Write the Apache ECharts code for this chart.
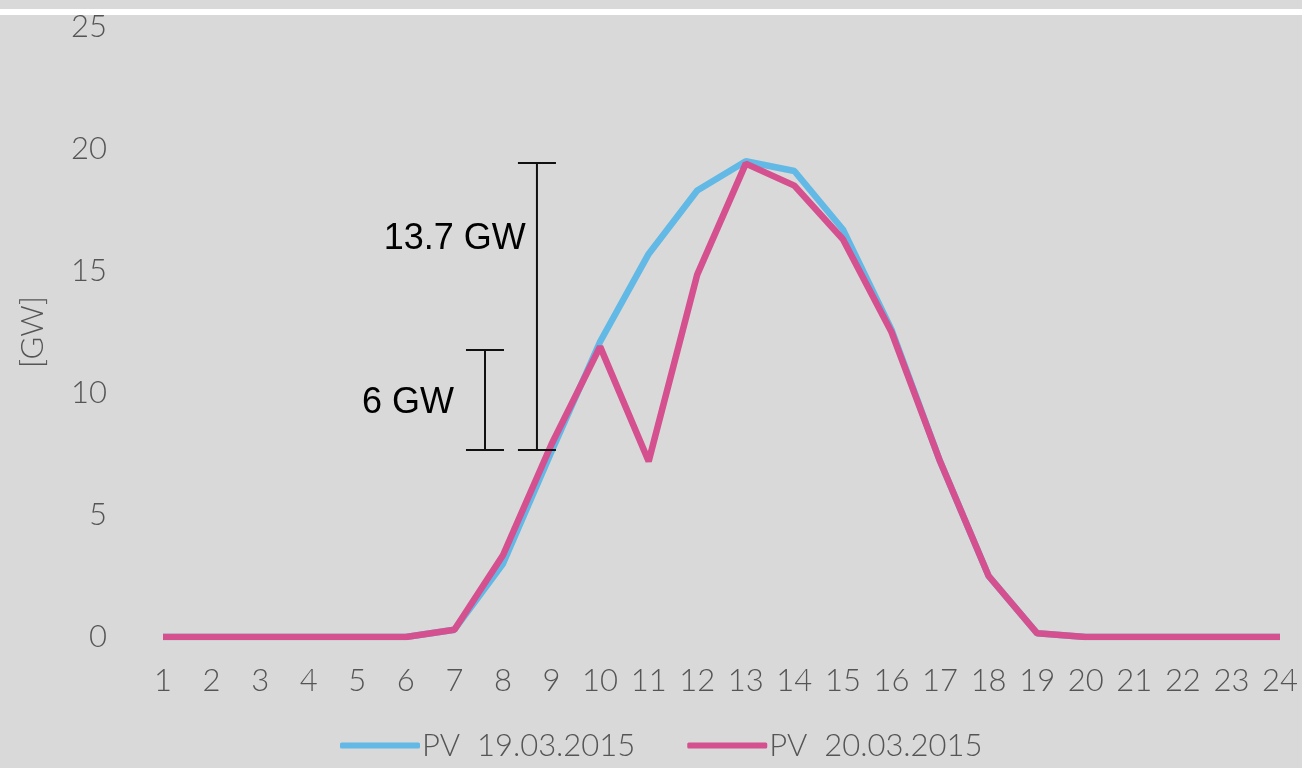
<!DOCTYPE html>
<html>
<head>
<meta charset="utf-8">
<title>PV 19.03.2015 / 20.03.2015</title>
<script src="https://cdn.jsdelivr.net/npm/echarts@6/dist/echarts.min.js"></script>
<style>
  html, body { margin: 0; padding: 0; background: #d9d9d9; }
  #chart { width: 1302px; height: 768px; }
</style>
</head>
<body>
<div id="chart"></div>
<script>
// Hour of day (x axis tick labels)
const hours = [1, 2, 3, 4, 5, 6, 7, 8, 9, 10, 11, 12, 13, 14, 15, 16, 17, 18, 19, 20, 21, 22, 23, 24];

// Photovoltaic feed-in [GW]
const pv19 = [0, 0, 0, 0, 0, 0, 0.3, 3.0, 7.6, 12.1, 15.7, 18.3, 19.5, 19.1, 16.7, 12.6, 7.2, 2.5, 0.15, 0, 0, 0, 0, 0];
const pv20 = [0, 0, 0, 0, 0, 0, 0.3, 3.35, 7.9, 11.9, 7.2, 14.85, 19.4, 18.5, 16.3, 12.5, 7.2, 2.5, 0.15, 0, 0, 0, 0, 0];

const seriesNames = ['PV  19.03.2015', 'PV  20.03.2015'];

// Range brackets: hour position, lower and upper value [GW], caption
const bracketHour = [8.7, 7.63];
const bracketLow = [7.66, 7.66];
const bracketHigh = [19.43, 11.76];
const bracketText = ['13.7 GW', '6 GW'];
// caption anchor (right edge) per bracket
const captionHour = [8.47, 6.99];
const captionValue = [16.3, 9.6];

const blue = '#62b9e5';
const pink = '#d4508f';
const tickFont = { fontFamily: 'Lato', fontWeight: 300, fontSize: 31, color: '#555555' };

const chart = echarts.init(document.getElementById('chart'));

const bracketData = bracketHour.map((h, i) => [h, bracketLow[i], bracketHigh[i], captionHour[i], captionValue[i], i]);

chart.setOption({
  backgroundColor: '#d9d9d9',
  animation: false,
  graphic: [{
    type: 'rect',
    shape: { x: 0, y: 9, width: 1302, height: 6 },
    style: { fill: '#ffffff' },
    z: 10
  }],
  grid: { left: 163, right: 22, top: 27, bottom: 131 },
  legend: {
    bottom: 2,
    left: 335,
    itemWidth: 80,
    itemHeight: 6,
    itemGap: 52,
    icon: 'roundRect',
    data: seriesNames,
    textStyle: Object.assign({}, tickFont, { padding: [0, 0, 0, -3] })
  },
  xAxis: {
    type: 'value',
    min: hours[0],
    max: hours[hours.length - 1],
    interval: 1,
    axisLine: { show: false },
    axisTick: { show: false },
    splitLine: { show: false },
    axisLabel: Object.assign({}, tickFont, { margin: 28 })
  },
  yAxis: {
    type: 'value',
    min: 0,
    max: 25,
    interval: 5,
    name: '[GW]',
    nameLocation: 'middle',
    nameGap: 115,
    nameRotate: 90,
    nameTextStyle: Object.assign({}, tickFont),
    axisLine: { show: false },
    axisTick: { show: false },
    splitLine: { show: false },
    axisLabel: Object.assign({}, tickFont, { margin: 56 })
  },
  series: [
    {
      name: seriesNames[0],
      type: 'line',
      data: hours.map((h, i) => [h, pv19[i]]),
      showSymbol: false,
      lineStyle: { color: blue, width: 6.5 },
      itemStyle: { color: blue },
      z: 2
    },
    {
      name: seriesNames[1],
      type: 'line',
      data: hours.map((h, i) => [h, pv20[i]]),
      showSymbol: false,
      lineStyle: { color: pink, width: 6.5 },
      itemStyle: { color: pink },
      z: 3
    },
    {
      type: 'custom',
      data: bracketData,
      z: 5,
      silent: true,
      renderItem: function (params, api) {
        const top = api.coord([api.value(0), api.value(2)]);
        const bot = api.coord([api.value(0), api.value(1)]);
        const cap = api.coord([api.value(3), api.value(4)]);
        const half = 19;
        const ls = { stroke: '#111111', lineWidth: 2 };
        return {
          type: 'group',
          children: [
            { type: 'line', shape: { x1: top[0], y1: top[1], x2: bot[0], y2: bot[1] }, style: ls },
            { type: 'line', shape: { x1: top[0] - half, y1: top[1], x2: top[0] + half, y2: top[1] }, style: ls },
            { type: 'line', shape: { x1: bot[0] - half, y1: bot[1], x2: bot[0] + half, y2: bot[1] }, style: ls },
            {
              type: 'text',
              x: cap[0], y: cap[1],
              style: {
                text: bracketText[api.value(5)],
                fill: '#000000',
                font: '36px "Liberation Sans", Arial, sans-serif',
                align: 'right',
                verticalAlign: 'middle'
              }
            }
          ]
        };
      }
    }
  ]
});
</script>
</body>
</html>
